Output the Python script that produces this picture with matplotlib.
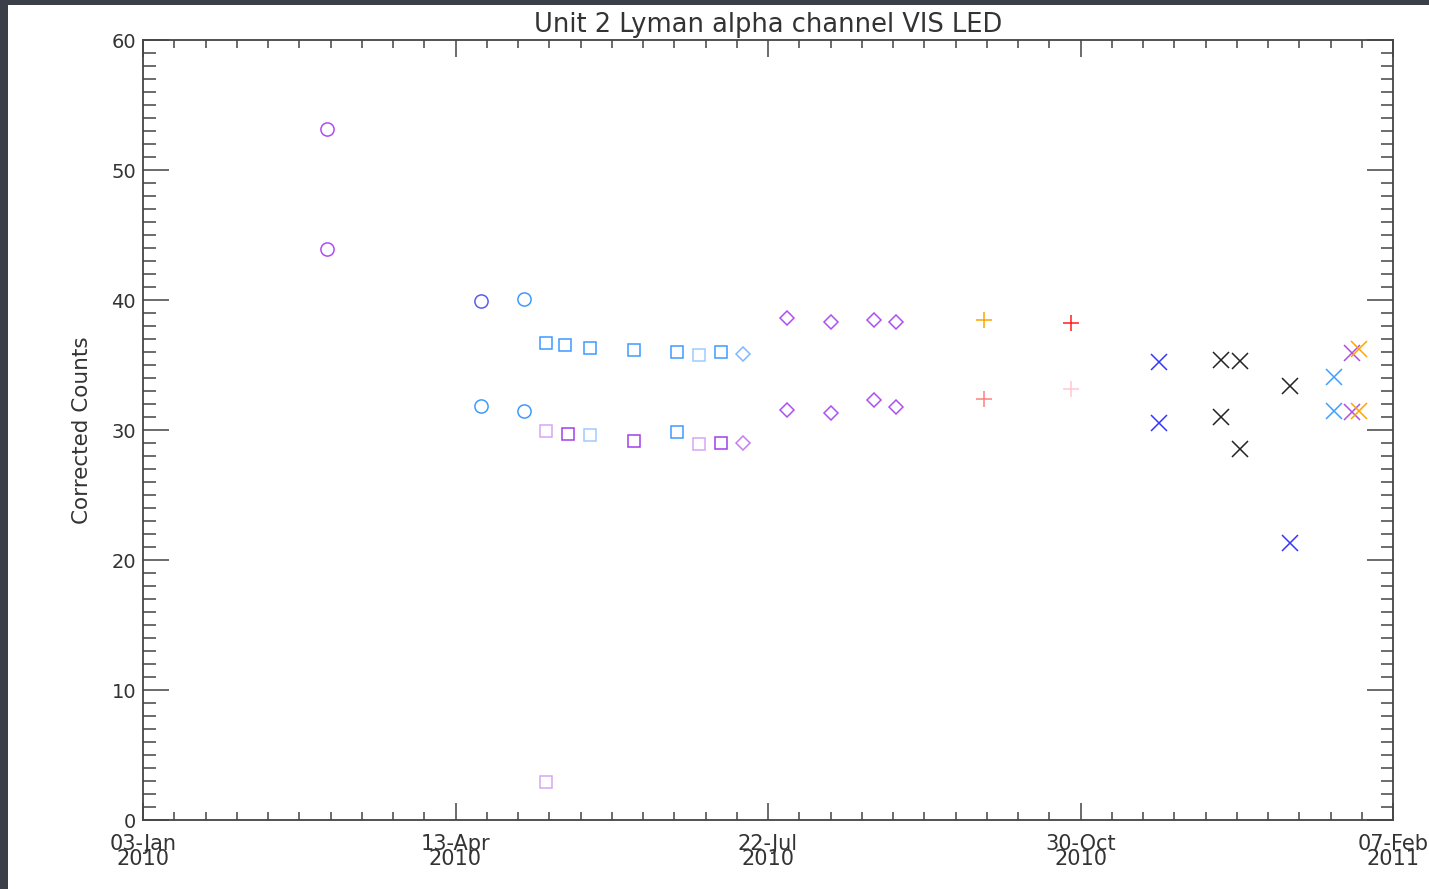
import numpy as np
import matplotlib
matplotlib.use("Agg")
import matplotlib.pyplot as plt
import matplotlib.dates as mdates
from matplotlib.patches import Rectangle

D = np.datetime64

# axis ticks
xtick_dates = [D('2010-01-03'), D('2010-04-13'), D('2010-07-22'), D('2010-10-30'), D('2011-02-07')]
xtick_labels = ['03-Jan\n2010', '13-Apr\n2010', '22-Jul\n2010', '30-Oct\n2010', '07-Feb\n2011']
ytick_values = [0, 10, 20, 30, 40, 50, 60]

# data, one small list per marker / colour group
violet_circ_dates = [D('2010-03-03'), D('2010-03-03')]
violet_circ_vals = [53.15, 43.9]
blue_circ_dates = [D('2010-04-21')]
blue_circ_vals = [39.9]
lblue_circ_dates = [D('2010-04-21'), D('2010-05-05'), D('2010-05-05')]
lblue_circ_vals = [31.85, 40.1, 31.45]

blue_sq_dates = [D('2010-05-12'), D('2010-05-18'), D('2010-05-26'), D('2010-06-09'),
                 D('2010-06-23'), D('2010-07-07'), D('2010-06-23')]
blue_sq_vals = [36.7, 36.55, 36.3, 36.15, 36.0, 36.0, 29.85]
pale_blue_sq_dates = [D('2010-05-26'), D('2010-06-30')]
pale_blue_sq_vals = [29.6, 35.8]
violet_sq_dates = [D('2010-05-19'), D('2010-06-09'), D('2010-07-07')]
violet_sq_vals = [29.7, 29.15, 29.0]
pale_violet_sq_dates = [D('2010-05-12'), D('2010-06-30'), D('2010-05-12')]
pale_violet_sq_vals = [29.9, 28.9, 2.9]

lblue_diam_dates = [D('2010-07-14')]
lblue_diam_vals = [35.85]
pale_violet_diam_dates = [D('2010-07-14')]
pale_violet_diam_vals = [29.0]
violet_diam_dates = [D('2010-07-28'), D('2010-08-11'), D('2010-08-25'), D('2010-09-01'),
                     D('2010-07-28'), D('2010-08-11'), D('2010-08-25'), D('2010-09-01')]
violet_diam_vals = [38.6, 38.3, 38.45, 38.3, 31.55, 31.3, 32.3, 31.8]

orange_plus_dates = [D('2010-09-29')]
orange_plus_vals = [38.45]
red_plus_dates = [D('2010-10-27')]
red_plus_vals = [38.2]
salmon_plus_dates = [D('2010-09-29')]
salmon_plus_vals = [32.4]
pink_plus_dates = [D('2010-10-27')]
pink_plus_vals = [33.15]

blue_x_dates = [D('2010-11-24'), D('2010-11-24'), D('2011-01-05')]
blue_x_vals = [35.25, 30.55, 21.3]
black_x_dates = [D('2010-12-14'), D('2010-12-20'), D('2010-12-14'), D('2010-12-20'), D('2011-01-05')]
black_x_vals = [35.4, 35.3, 31.0, 28.55, 33.4]
lblue_x_dates = [D('2011-01-19'), D('2011-01-19')]
lblue_x_vals = [34.1, 31.45]
violet_x_dates = [D('2011-01-25'), D('2011-01-25')]
violet_x_vals = [35.9, 31.4]
orange_x_dates = [D('2011-01-27'), D('2011-01-27')]
orange_x_vals = [36.25, 31.45]

groups = [
    (violet_circ_dates, violet_circ_vals, 'o', '#b04cf2', 9.5),
    (blue_circ_dates, blue_circ_vals, 'o', '#5a5cf0', 9.5),
    (lblue_circ_dates, lblue_circ_vals, 'o', '#3d9bff', 9.5),
    (blue_sq_dates, blue_sq_vals, 's', '#3d9bff', 9),
    (pale_blue_sq_dates, pale_blue_sq_vals, 's', '#9ccbff', 9),
    (violet_sq_dates, violet_sq_vals, 's', '#a040e8', 9),
    (pale_violet_sq_dates, pale_violet_sq_vals, 's', '#d6a6f5', 9),
    (lblue_diam_dates, lblue_diam_vals, 'D', '#7fb8ff', 7),
    (pale_violet_diam_dates, pale_violet_diam_vals, 'D', '#c47ef0', 7),
    (violet_diam_dates, violet_diam_vals, 'D', '#b050f0', 7),
    (orange_plus_dates, orange_plus_vals, '+', '#ffa500', 11),
    (red_plus_dates, red_plus_vals, '+', '#ff1f1f', 11),
    (salmon_plus_dates, salmon_plus_vals, '+', '#ff7f7f', 11),
    (pink_plus_dates, pink_plus_vals, '+', '#ffc8d0', 11),
    (blue_x_dates, blue_x_vals, 'x', '#3535ff', 11),
    (black_x_dates, black_x_vals, 'x', '#222222', 11),
    (lblue_x_dates, lblue_x_vals, 'x', '#40a0ff', 11),
    (violet_x_dates, violet_x_vals, 'x', '#b050e0', 11),
    (orange_x_dates, orange_x_vals, 'x', '#ffa500', 11),
]

plt.rcParams['font.family'] = ['DejaVu Sans']
txt = '#333333'

fig = plt.figure(figsize=(14.29, 8.89), dpi=100)
fig.patch.set_facecolor('#3b3f48')
fig.add_artist(Rectangle((8 / 1429, 0), 1, (889 - 5) / 889, transform=fig.transFigure,
                         facecolor='white', edgecolor='none', zorder=-5))

ax = fig.add_axes([143 / 1429, 1 - 820 / 889, 1250 / 1429, 780 / 889])

for dates, vals, mk, col, ms in groups:
    ax.plot(dates, vals, linestyle='none', marker=mk, markersize=ms,
            markerfacecolor='none', markeredgecolor=col, markeredgewidth=1.1)

ax.set_xlim(mdates.date2num(xtick_dates[0]), mdates.date2num(xtick_dates[-1]))
ax.set_ylim(0, 60)

ax.set_xticks(mdates.date2num(xtick_dates), labels=xtick_labels)
ax.set_xticks(mdates.date2num(np.arange(xtick_dates[0], xtick_dates[-1], np.timedelta64(10, 'D'))), minor=True)
ax.set_yticks(ytick_values)
ax.set_yticks(np.arange(0, 61, 1), minor=True)

for lbl in ax.get_xticklabels():
    lbl.set_linespacing(0.72)
    lbl.set_fontsize(15)

ax.tick_params(which='both', direction='in', top=True, right=True, colors='#444444',
               labelcolor=txt, labelsize=14, width=1.1)
ax.tick_params(axis='x', which='major', length=12, pad=10, labelsize=15)
ax.tick_params(axis='x', which='minor', length=6)
ax.tick_params(axis='y', which='major', length=19, pad=5)
ax.tick_params(axis='y', which='minor', length=9)

for sp in ax.spines.values():
    sp.set_color('#444444')
    sp.set_linewidth(1.3)

ax.set_title('Unit 2 Lyman alpha channel VIS LED', fontsize=18.5, color=txt, pad=6)
ax.set_ylabel('Corrected Counts', fontsize=15.5, color=txt, labelpad=14)

fig.savefig('out.png', dpi=100, facecolor=fig.get_facecolor())
